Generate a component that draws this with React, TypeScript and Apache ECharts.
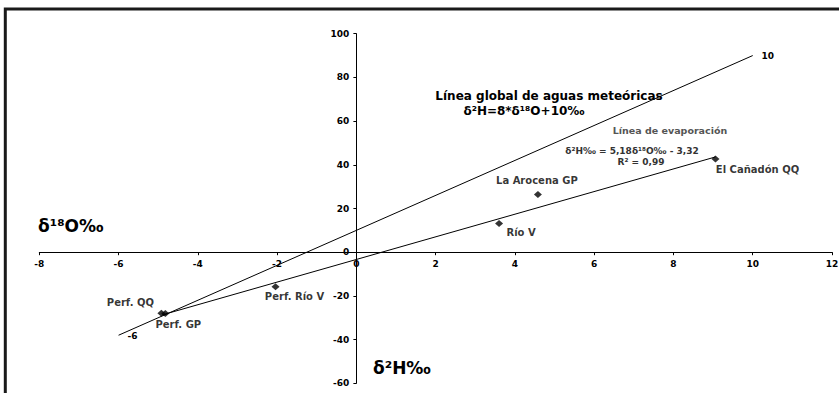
import React, { useEffect, useRef } from 'react';
import * as echarts from 'echarts';

const FONT = '"DejaVu Sans", "Liberation Sans", Arial, sans-serif';

// Samples: δ18O (x) and δ2H (y)
const sampleNames = ['Perf. QQ', 'Perf. GP', 'Perf. Río V', 'Río V', 'La Arocena GP', 'El Cañadón QQ'];
const sampleD18O = [-4.92, -4.82, -2.04, 3.6, 4.58, 9.06];
const sampleD2H = [-27.9, -28.0, -15.8, 13.1, 26.4, 42.6];

// Global meteoric water line endpoints
const gmwlD18O = [-6, 10];
const gmwlD2H = [-38, 90];
const gmwlLabels = ['-6', '10'];

// Evaporation line endpoints
const evapD18O = [-4.9, 9.06];
const evapD2H = [-28.7, 43.6];

// Axis ranges
const xRange = [-8, 12];
const yRange = [-60, 100];

const labelOffsets: number[][] = [[-31, -11], [13, 11], [19, 10], [22, 9], [-1, -14], [42, 10]];
const endOffsets: number[][] = [[14, 1], [15, 0]];

export default function App() {
  const ref = useRef<HTMLDivElement>(null);
  useEffect(() => {
    if (!ref.current) return;
    const chart = echarts.init(ref.current, null, { renderer: 'svg' });
    const gridLeft = 39.3, gridRight = 7, gridTop = 33.7, gridBottom = 9.7;
    const W = 839, H = 393;
    const plotW = W - gridLeft - gridRight;
    const plotH = H - gridTop - gridBottom;
    // distance from grid edges to the zero lines
    const xAxisOffset = -plotH * (0 - yRange[0]) / (yRange[1] - yRange[0]);
    const yAxisOffset = -plotW * (0 - xRange[0]) / (xRange[1] - xRange[0]);
    const option: any = {
      animation: false,
      backgroundColor: '#ffffff',
      grid: { left: gridLeft, right: gridRight, top: gridTop, bottom: gridBottom, containLabel: false, outerBoundsMode: 'none' },
      xAxis: {
        type: 'value', min: xRange[0], max: xRange[1], interval: 2,
        position: 'bottom', offset: xAxisOffset,
        axisLine: { onZero: false, lineStyle: { color: '#000', width: 1 } },
        axisTick: { show: true, length: 3, lineStyle: { color: '#000' } },
        axisLabel: { color: '#000', fontSize: 9, fontWeight: 'bold', fontFamily: FONT, margin: 7, showMinLabel: true, showMaxLabel: true, hideOverlap: false },
        splitLine: { show: false },
      },
      yAxis: {
        type: 'value', min: yRange[0], max: yRange[1], interval: 20,
        position: 'left', offset: yAxisOffset,
        axisLine: { onZero: false, lineStyle: { color: '#000', width: 1 } },
        axisTick: { show: true, length: 3, lineStyle: { color: '#000' } },
        axisLabel: { color: '#000', fontSize: 9, fontWeight: 'bold', fontFamily: FONT, margin: 7, showMinLabel: true, showMaxLabel: true, hideOverlap: false },
        splitLine: { show: false },
      },
      series: [
        {
          type: 'line',
          data: gmwlD18O.map((x, i) => ({
            value: [x, gmwlD2H[i]],
            label: { show: true, formatter: gmwlLabels[i], position: 'inside', offset: endOffsets[i] },
          })),
          symbol: 'circle', symbolSize: 0,
          lineStyle: { color: '#000', width: 1 },
          itemStyle: { color: '#000' },
          label: { color: '#000', fontSize: 9, fontWeight: 'bold', fontFamily: FONT },
          z: 2,
        },
        {
          type: 'line',
          data: evapD18O.map((x, i) => [x, evapD2H[i]]),
          symbol: 'none',
          lineStyle: { color: '#000', width: 1 },
          z: 2,
        },
        {
          type: 'scatter',
          data: sampleD18O.map((x, i) => ({
            value: [x, sampleD2H[i]],
            label: { show: true, formatter: sampleNames[i], position: 'inside', offset: labelOffsets[i] },
          })),
          symbol: 'diamond', symbolSize: [8, 7],
          itemStyle: { color: '#000' },
          label: { color: '#000', fontSize: 10, fontWeight: 'bold', fontFamily: FONT },
          z: 3,
        },
      ],
      graphic: [
        { type: 'rect', x: 5.3, y: 9, shape: { x: 0, y: 0, width: 900, height: 500 }, style: { fill: 'rgba(0,0,0,0)', stroke: '#1a1a1a', lineWidth: 3 }, silent: true, z: 10 },
        {
          type: 'text', x: 549, y: 96,
          style: { text: 'Línea global de aguas meteóricas', fontSize: 12, fontWeight: 'bold', fontFamily: FONT, fill: '#000', align: 'center', verticalAlign: 'middle' },
        },
        {
          type: 'text', x: 524, y: 111,
          style: { text: 'δ²H=8*δ¹⁸O+10‰', fontSize: 12, fontWeight: 'bold', fontFamily: FONT, fill: '#000', align: 'center', verticalAlign: 'middle' },
        },
        {
          type: 'text', x: 670, y: 130,
          style: { text: 'Línea de evaporación', fontSize: 9.5, fontWeight: 'bold', fontFamily: FONT, fill: '#555', align: 'center', verticalAlign: 'middle' },
        },
        {
          type: 'text', x: 632, y: 151,
          style: { text: 'δ²H‰ = 5,18δ¹⁸O‰ - 3,32', fontSize: 9, fontWeight: 'bold', fontFamily: FONT, fill: '#333', align: 'center', verticalAlign: 'middle' },
        },
        {
          type: 'text', x: 641, y: 162,
          style: { text: 'R² = 0,99', fontSize: 9, fontWeight: 'bold', fontFamily: FONT, fill: '#333', align: 'center', verticalAlign: 'middle' },
        },
        {
          type: 'text', x: 38, y: 226,
          style: { text: 'δ¹⁸O‰', fontSize: 17, fontWeight: 'bold', fontFamily: FONT, fill: '#000', align: 'left', verticalAlign: 'middle' },
        },
        {
          type: 'text', x: 373, y: 368,
          style: { text: 'δ²H‰', fontSize: 17, fontWeight: 'bold', fontFamily: FONT, fill: '#000', align: 'left', verticalAlign: 'middle' },
        },
      ],
    };
    chart.setOption(option);
    return () => chart.dispose();
  }, []);
  return <div ref={ref} style={{ position: 'absolute', left: 0, top: 0, width: 839, height: 393 }} />;
}
